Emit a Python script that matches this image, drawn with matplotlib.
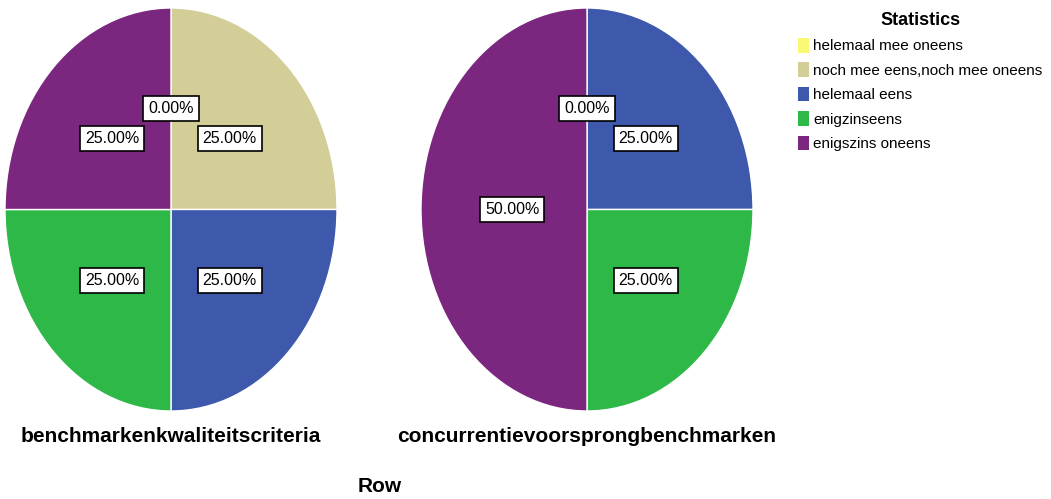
import numpy as np
import matplotlib
matplotlib.use("Agg")
import matplotlib.pyplot as plt
from matplotlib.patches import Patch

plt.rcParams['font.family'] = ['Liberation Sans Narrow', 'Liberation Sans', 'DejaVu Sans']

categories = ["helemaal mee oneens", "noch mee eens,noch mee oneens",
              "helemaal eens", "enigzinseens", "enigszins oneens"]
colors = ["#FBF873", "#D3CE97", "#3E58AC", "#2EB848", "#7B2780"]

pie_titles = ["benchmarkenkwaliteitscriteria", "concurrentievoorsprongbenchmarken"]
# percentages per category, nan = category not present in that pie
benchmark_vals = [0.0, 25.0, 25.0, 25.0, 25.0]
concurrentie_vals = [0.0, np.nan, 25.0, 25.0, 50.0]

fig = plt.figure(figsize=(10.51, 4.99), dpi=100)
W, H = 1051, 499


def draw_pie(left_px, vals, title):
    ax = fig.add_axes([left_px / W, (H - 411) / H, 332 / W, 403 / H])
    keep = [i for i, v in enumerate(vals) if not np.isnan(v)]
    v = [vals[i] for i in keep]
    c = [colors[i] for i in keep]
    wedges, _ = ax.pie(v, colors=c, startangle=90, counterclock=False,
                       wedgeprops=dict(edgecolor="white", linewidth=1.0))
    ax.set_aspect("auto")
    ax.set_xlim(-1, 1)
    ax.set_ylim(-1, 1)
    # percentage labels at half radius (a bit closer in for the big slice)
    start = 90.0
    total = sum(v)
    for val in v:
        sweep = 360.0 * val / total
        mid = np.deg2rad(start - sweep / 2)
        r = 0.45 if sweep >= 180 else 0.5
        ax.text(r * np.cos(mid), r * np.sin(mid), f"{val:.2f}%",
                ha="center", va="center", fontsize=11.5,
                bbox=dict(boxstyle="square,pad=0.3", fc="white", ec="black", lw=1.2))
        start -= sweep
    fig.text((left_px + 166) / W, 1 - 437 / H, title, ha="center", va="center",
             fontsize=15, fontweight="bold")
    return ax


draw_pie(5, benchmark_vals, pie_titles[0])
draw_pie(421, concurrentie_vals, pie_titles[1])

fig.text(380 / W, 1 - 486 / H, "Row", ha="center", va="center",
         fontsize=15, fontweight="bold")

handles = [Patch(facecolor=col, edgecolor="none") for col in colors]
leg = fig.legend(handles, categories, loc="upper left",
                 bbox_to_anchor=(792 / W, 1 - 6 / H), frameon=False,
                 title="Statistics", fontsize=11,
                 handlelength=0.7, handleheight=1.1, handletextpad=0.3,
                 labelspacing=0.58, borderaxespad=0)
leg.get_title().set_fontweight("bold")
leg.get_title().set_fontsize(13)

fig.savefig("out.png", dpi=100)
